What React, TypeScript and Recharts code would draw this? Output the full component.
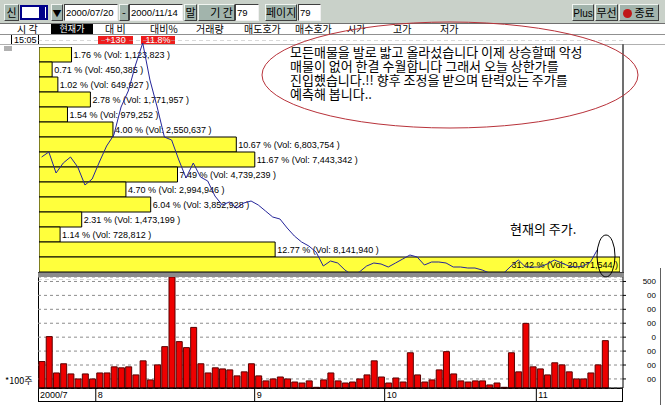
import React from "react";
import {
  BarChart,
  Bar,
  LineChart,
  Line,
  XAxis,
  YAxis,
  CartesianGrid,
  LabelList,
} from "recharts";

// trading days 2000/07/20 ~ 2000/11/14 (79 days)
const julDays = [20, 21, 24, 25, 26, 27, 28, 31];
const augDays = [1, 2, 3, 4, 7, 8, 9, 10, 11, 14, 16, 17, 18, 21, 22, 23, 24, 25, 28, 29, 30, 31];
const sepDays = [1, 4, 5, 6, 7, 8, 14, 15, 18, 19, 20, 21, 22, 25, 26, 27, 28, 29];
const octDays = [2, 4, 5, 6, 9, 10, 11, 12, 13, 16, 17, 18, 19, 20, 23, 24, 25, 26, 27, 30, 31];
const novDays = [1, 2, 3, 6, 7, 8, 9, 10, 13, 14];

// close prices (won)
const closePrices = [
  2150, 2200, 1990, 2090, 2150, 2050, 1870, 1930,
  2100, 2260, 2370, 2650, 2810, 3070, 3290, 2920, 2650, 2350, 2320, 2120, 1940, 2090, 1950, 1910, 1760, 1670, 1700, 1640, 1690, 1710,
  1670, 1610, 1550, 1530, 1440, 1360, 1300, 1260, 1200, 1060, 1110, 1090, 1020, 970, 1000, 1060, 1090, 1080,
  1050, 1090, 1130, 1170, 1150, 1070, 1100, 1100, 1090, 1050, 1050, 1040, 1040, 1020, 990, 990, 990, 1060, 1120, 1050, 1050,
  1050, 1080, 1120, 1090, 1060, 1050, 1060, 1100, 1230,
];

// daily volume (x100 shares, as on the right scale)
const volumes = [
  925, 1104, 843, 909, 836, 800, 836, 800,
  843, 843, 887, 880, 887, 829, 930, 793, 901, 1032, 1532, 1068, 1025, 1170, 909, 843, 880, 872, 865, 822, 851, 909,
  822, 786, 800, 814, 800, 778, 771, 786, 740, 793, 843, 786, 771, 778, 800, 829, 930, 814,
  771, 807, 778, 988, 829, 778, 793, 865, 996, 836, 786, 778, 786, 786, 757, 771, 740, 988, 851, 1199, 887,
  872, 829, 916, 901, 851, 800, 800, 843, 901, 1075,
];

// volume-by-price bands, top (high price) to bottom
const bandPct = [1.76, 0.71, 1.02, 2.78, 1.54, 4.0, 10.67, 11.67, 7.49, 4.7, 6.04, 2.31, 1.14, 12.77, 31.42];
const bandVol = [
  1123823, 450385, 649927, 1771957, 979252, 2550637, 6803754, 7443342,
  4739239, 2994946, 3852928, 1473199, 728812, 8141940, 20071544,
];

const priceTicks = [3100, 2950, 2800, 2650, 2500, 2350, 2200, 2050, 1900, 1750, 1600, 1450, 1300, 1150, 1000];
const priceTickLabels = ["8", "4", "0", "6", "2", ".8", "14", "0", "5", "3", "18", "14", "", "6", "2"];
const volTicks = [1500, 1400, 1300, 1200, 1100, 1000, 900, 800];
const volTickLabels = ["500", "00", "00", "00", "0", "00", "00", "00"];

const months = [
  { m: 7, label: "2000/7", days: julDays },
  { m: 8, label: "8", days: augDays },
  { m: 9, label: "9", days: sepDays },
  { m: 10, label: "10", days: octDays },
  { m: 11, label: "11", days: novDays },
];

const tradingDays = months.flatMap((mo) =>
  mo.days.map((d, k) => ({ key: `${mo.m}/${d}`, monthLabel: k === 0 ? mo.label : "" }))
);

const SLOTS = tradingDays.length + 2; // two empty slots after the last day

const priceData = tradingDays.map((day, i) => ({ i, price: closePrices[i] }));
const volumeData = [
  ...tradingDays.map((day, i) => ({ key: day.key, monthLabel: day.monthLabel, vol: volumes[i] })),
  { key: "e1", monthLabel: "", vol: null },
  { key: "e2", monthLabel: "", vol: null },
];
const profileData = bandPct.map((pct, k) => ({ band: k, pct, vol: bandVol[k] }));

const PLOT_W = 585;
const halfBand = PLOT_W / SLOTS / 2;
const smallFont = "'Liberation Sans', Arial, sans-serif";
const krFont = "'Noto Sans CJK KR', sans-serif";

const PriceTick = (props: any) => {
  const { x, y, payload } = props;
  const label = priceTickLabels[priceTicks.indexOf(payload.value)];
  return (
    <text x={x} y={y + 3} textAnchor="end" fontSize={8} fontFamily={smallFont} fill="#000">
      {label}
    </text>
  );
};

const VolTick = (props: any) => {
  const { x, y, payload } = props;
  const label = volTickLabels[volTicks.indexOf(payload.value)];
  return (
    <text x={x + 28} y={y + 3} textAnchor="end" fontSize={8} fontFamily={smallFont} fill="#000">
      {label}
    </text>
  );
};

const MonthTick = (props: any) => {
  const { x, y, index } = props;
  const row = volumeData[index];
  if (!row || !row.monthLabel) return null;
  const left = x - halfBand;
  return (
    <g>
      <line x1={left} y1={y} x2={left} y2={y + 13} stroke="#000" />
      <text x={left + 2} y={y + 10} fontSize={9} fontFamily={smallFont} fill="#000">
        {row.monthLabel}
      </text>
    </g>
  );
};

const fmt = (n: number) => n.toLocaleString("en-US");

const BandLabel = (props: any) => {
  const { x, y, width, height, index } = props;
  const row = profileData[index];
  const text = `${row.pct.toFixed(2)} % (Vol: ${fmt(row.vol)} )`;
  const inside = x + width + 110 > 581;
  return (
    <text
      x={inside ? x + width - 2 : x + width + 2}
      y={y + height / 2 + 3}
      textAnchor={inside ? "end" : "start"}
      fontSize={9}
      fontFamily={smallFont}
      fill="#000"
    >
      {text}
    </text>
  );
};

const abs = (left: number, top: number, width: number, height: number): React.CSSProperties => ({
  position: "absolute",
  left,
  top,
  width,
  height,
  boxSizing: "border-box",
});

function Btn({ x, w, children }: { x: number; w: number; children: React.ReactNode }) {
  return (
    <div
      style={{
        ...abs(x, 4, w, 17),
        background: "#a2b4ac",
        borderTop: "1px solid #f0f4f0",
        borderLeft: "1px solid #f0f4f0",
        borderRight: "1px solid #404040",
        borderBottom: "1px solid #404040",
        fontSize: 11,
        lineHeight: "15px",
        textAlign: "center",
        color: "#000",
        whiteSpace: "nowrap",
      }}
    >
      {children}
    </div>
  );
}

function Field({ x, w, text }: { x: number; w: number; text: string }) {
  return (
    <div
      style={{
        ...abs(x, 4, w, 17),
        background: "#fff",
        borderTop: "1px solid #404040",
        borderLeft: "1px solid #404040",
        borderRight: "1px solid #f0f0f0",
        borderBottom: "1px solid #f0f0f0",
        fontSize: 9.5,
        fontFamily: smallFont,
        lineHeight: "15px",
        paddingLeft: 1,
        color: "#000",
        whiteSpace: "nowrap",
      }}
    >
      {text}
    </div>
  );
}

const headerCols = [
  { x: 17, t: "시 각" },
  { x: 105, t: "대 비" },
  { x: 150, t: "대비%" },
  { x: 196, t: "거래량" },
  { x: 244, t: "매도호가" },
  { x: 295, t: "매수호가" },
  { x: 347, t: "시가" },
  { x: 393, t: "고가" },
  { x: 440, t: "저가" },
];

function Toolbar() {
  return (
    <>
      <div style={{ ...abs(0, 0, 665, 24), background: "#c9d1c9", borderBottom: "1px solid #707070" }} />
      <Btn x={4} w={15}>신</Btn>
      <div style={{ ...abs(20, 5, 28, 15), background: "#fff", border: "2px solid #00008a" }}>
        <div style={{ position: "absolute", right: 1, top: 0, width: 6, height: 11, background: "#00008a" }} />
      </div>
      <Btn x={51} w={12}>
        <span style={{ fontSize: 9 }}>▼</span>
      </Btn>
      <Field x={64} w={54} text="2000/07/20" />
      <Btn x={119} w={10}>-</Btn>
      <Field x={129} w={54} text="2000/11/14" />
      <Btn x={184} w={13}>말</Btn>
      <Btn x={198} w={37}>
        <span style={{ paddingLeft: 10 }}>기 간</span>
      </Btn>
      <Field x={235} w={24} text="79" />
      <Btn x={265} w={32}>페이지</Btn>
      <Field x={298} w={23} text="79" />
      <Btn x={572} w={22}>
        <span style={{ fontFamily: smallFont, fontSize: 10 }}>Plus</span>
      </Btn>
      <Btn x={595} w={23}>무선</Btn>
      <Btn x={619} w={40}>
        <span style={{ display: "inline-block", width: 9, height: 9, borderRadius: 5, background: "#c01818", marginRight: 2, verticalAlign: -1 }} />
        종료
      </Btn>
    </>
  );
}

function QuoteHeader() {
  return (
    <>
      {headerCols.map((c) => (
        <div key={c.t} style={{ position: "absolute", left: c.x, top: 23, fontSize: 10, lineHeight: "11px", color: "#000", whiteSpace: "nowrap" }}>
          {c.t}
        </div>
      ))}
      <div style={{ ...abs(51, 24, 42, 10), background: "#000", color: "#fff", fontSize: 9, lineHeight: "10px", textAlign: "center", whiteSpace: "nowrap" }}>
        현재가
      </div>
      <div style={{ ...abs(0, 34, 665, 1), background: "#909090" }} />
      <div style={{ ...abs(11, 35, 28, 10), border: "1px solid #000", borderTop: "none", borderBottom: "none", fontSize: 9, lineHeight: "10px", fontFamily: smallFont, paddingLeft: 2 }}>
        15:05
      </div>
      <div style={{ ...abs(98, 36, 35, 8), background: "#ee1c1c", color: "#fff", fontSize: 9, lineHeight: "8px", textAlign: "center", fontFamily: smallFont }}>
        +130
      </div>
      <div style={{ ...abs(141, 36, 34, 8), background: "#ee1c1c", color: "#fff", fontSize: 9, lineHeight: "8px", textAlign: "center", fontFamily: smallFont }}>
        11.8%
      </div>
      <div style={{ ...abs(0, 44, 665, 1), background: "#b0b0b0" }} />
      <div style={{ ...abs(4, 46, 8, 5), backgroundImage: "radial-gradient(#555 0.6px, transparent 0.8px)", backgroundSize: "2px 2px" }} />
    </>
  );
}

function Overlay() {
  return (
    <svg width={665} height={405} style={{ position: "absolute", left: 0, top: 0, pointerEvents: "none" }}>
      <rect x={286} y={46} width={334} height={58} fill="#fff" />
      <ellipse cx={450} cy={75} rx={188} ry={53} fill="none" stroke="#b8323a" strokeWidth={1} />
      <g fontFamily={krFont} fontSize={13} fill="#000">
        <text x={290} y={57}>모든매물을 발로 밟고 올라섰습니다 이제 상승할때 악성</text>
        <text x={290} y={71}>매물이 없어 한결 수월합니다  그래서 오늘 상한가를</text>
        <text x={290} y={85}>진입했습니다.!! 향후 조정을 받으며 탄력있는 주가를</text>
        <text x={290} y={99}>예측해 봅니다..</text>
        <text x={510} y={234}>현재의 주가.</text>
      </g>
      <ellipse cx={606} cy={256} rx={9} ry={21} fill="none" stroke="#000" strokeWidth={1} />
    </svg>
  );
}

export default function App() {
  return (
    <div style={{ position: "fixed", left: 0, top: 0, width: 665, height: 405, background: "#fff", overflow: "hidden", fontFamily: krFont }}>
      <Toolbar />
      <QuoteHeader />

      {/* price panel: grid + left scale */}
      <div style={abs(0, 40, 623, 240)}>
        <LineChart width={623} height={240} data={priceData} margin={{ top: 0, right: 0, bottom: 0, left: 0 }}>
          <CartesianGrid vertical={false} stroke="#b4b4b4" strokeDasharray="4 3" />
          <XAxis dataKey="i" type="number" domain={[-0.5, SLOTS - 0.5]} hide />
          <YAxis
            width={38}
            type="number"
            domain={[920, 3320]}
            ticks={priceTicks}
            interval={0}
            tick={<PriceTick />}
            tickSize={0}
            tickMargin={2}
            axisLine={false}
          />
        </LineChart>
      </div>

      {/* volume by price */}
      <div style={abs(39, 47, 581, 225)}>
        <BarChart width={581} height={225} data={profileData} layout="vertical" barCategoryGap={0} margin={{ top: 0, right: 0, bottom: 0, left: 0 }}>
          <XAxis type="number" domain={[0, 31.42]} hide />
          <YAxis type="category" dataKey="band" hide />
          <Bar dataKey="pct" fill="#ffff3c" stroke="#000" strokeWidth={1} isAnimationActive={false}>
            <LabelList dataKey="pct" content={<BandLabel />} />
          </Bar>
        </BarChart>
      </div>

      {/* price line */}
      <div style={abs(38, 40, PLOT_W, 240)}>
        <LineChart width={PLOT_W} height={240} data={priceData} margin={{ top: 0, right: 0, bottom: 0, left: 0 }}>
          <XAxis dataKey="i" type="number" domain={[-0.5, SLOTS - 0.5]} hide />
          <YAxis type="number" domain={[920, 3320]} hide />
          <Line type="linear" dataKey="price" stroke="#25259a" strokeWidth={1} dot={false} isAnimationActive={false} />
        </LineChart>
      </div>

      {/* panel frames */}
      <div style={{ ...abs(622, 44, 2, 232), background: "#707070" }} />
      <div style={{ ...abs(38, 272, 586, 5), background: "#8c8c8c", borderTop: "1px solid #404040" }} />
      <div style={{ ...abs(38, 277, 1, 125), background: "#000" }} />
      <div style={{ ...abs(38, 388, PLOT_W, 14), border: "1px solid #000" }} />
      <div style={{ ...abs(660, 268, 1, 137), background: "#606060" }} />

      {/* daily volume */}
      <div style={abs(38, 277, PLOT_W + 42, 125)}>
        <BarChart width={PLOT_W + 42} height={125} data={volumeData} barSize={6} margin={{ top: 0, right: 0, bottom: 0, left: 0 }}>
          <CartesianGrid vertical={false} stroke="#8c8c8c" strokeDasharray="3 3" />
          <XAxis
            dataKey="key"
            height={14}
            interval={0}
            tick={<MonthTick />}
            tickLine={false}
            tickSize={0}
            tickMargin={0}
            axisLine={{ stroke: "#000" }}
          />
          <YAxis
            orientation="right"
            width={42}
            type="number"
            domain={[735, 1532]}
            ticks={volTicks}
            interval={0}
            tick={<VolTick />}
            tickSize={3}
            tickLine={{ stroke: "#000" }}
            axisLine={{ stroke: "#000" }}
          />
          <Bar dataKey="vol" fill="#ee0000" stroke="#5a0000" strokeWidth={1} isAnimationActive={false} />
        </BarChart>
      </div>

      <div style={{ position: "absolute", left: 5, top: 376, fontSize: 9, lineHeight: "10px", color: "#000", fontFamily: krFont }}>
        *100주
      </div>

      <Overlay />
    </div>
  );
}
